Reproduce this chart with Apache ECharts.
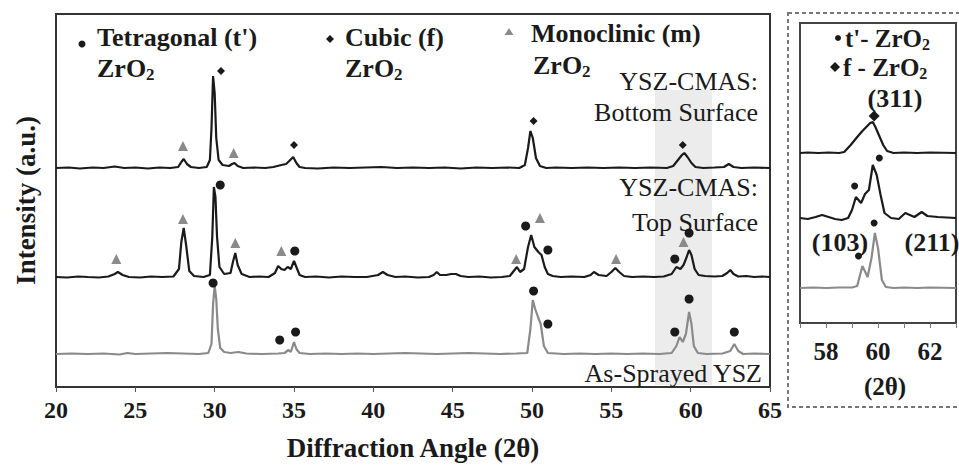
<!DOCTYPE html>
<html>
<head>
<meta charset="utf-8">
<script src="https://cdn.jsdelivr.net/npm/echarts@6/dist/echarts.min.js"></script>
<style>
  html, body { margin: 0; padding: 0; background: #fff; }
  #chart { width: 959px; height: 468px; }
</style>
</head>
<body>
<div id="chart"></div>
<script>
// x ticks of the main panel and of the inset
const mainTicks = [20, 25, 30, 35, 40, 45, 50, 55, 60, 65]
const insetTicks = [58, 60, 62]

// baseline offset of each stacked pattern (a.u.)
const mainOffsets = { bottom: 219, top: 110, sprayed: 33 }
const insetOffsets = { bottom: 170, top: 105, sprayed: 35 }

// YSZ-CMAS bottom surface, [2theta, intensity above its baseline]
const bottomSurface = [
  [20, 0], [20.8, 0.5], [21.5, -0.5], [22.3, 0.5], [23, 0], [23.7, 1.5], [24.3, 0], [25, 0.5],
  [25.8, -0.5], [26.5, 0.5], [27.2, 0], [27.7, 1], [27.9, 6], [28.05, 9], [28.25, 4], [28.5, 1],
  [29, 0], [29.5, 1], [29.7, 8], [29.8, 40], [29.9, 92], [30.0, 75], [30.1, 30], [30.25, 8],
  [30.5, 3], [30.9, 2], [31.1, 4], [31.25, 5], [31.45, 2], [31.8, 0], [32.5, 0.5], [33.2, 0],
  [33.7, 1], [34.2, 3], [34.5, 4], [34.7, 7], [34.95, 11], [35.15, 5], [35.35, 1], [35.7, 0],
  [36.5, -0.5], [37.5, 0.5], [38.5, 0], [39.5, 0.5], [40.5, 1], [41.5, 0], [42.5, 0.5], [43.5, 0],
  [44.5, 0.5], [45.5, -0.5], [46.5, 0.5], [47.5, 0], [48.5, 0.5], [49.2, 0], [49.55, 3], [49.75, 20],
  [49.9, 37], [50.05, 30], [50.25, 10], [50.5, 2], [50.9, 0], [51.5, 0.5], [52.5, 0], [53.5, 0.5],
  [54.5, 0], [55.5, 0.5], [56.5, 0], [57.5, 0.5], [58.5, 0], [58.9, 2], [59.2, 8], [59.45, 13],
  [59.6, 15], [59.8, 11], [60.05, 5], [60.3, 1], [60.8, 0], [61.5, 0.5], [62.1, 1], [62.4, 4],
  [62.7, 1], [63.2, 0], [64, 0.5], [65, 0],
]

// YSZ-CMAS top surface
const topSurface = [
  [20, 0], [20.7, -0.5], [21.4, 0.5], [22, 0], [22.7, -0.5], [23.3, 0.5], [23.7, 3], [23.9, 5],
  [24.2, 2], [24.6, 0], [25.3, -0.5], [26, 0.5], [26.7, 0], [27.4, 0.5], [27.75, 8], [27.9, 35],
  [28.05, 49], [28.2, 32], [28.4, 6], [28.7, 1], [29.3, 0], [29.7, 2], [29.85, 40], [29.95, 90],
  [30.05, 80], [30.15, 40], [30.3, 10], [30.6, 3], [31.0, 4], [31.15, 15], [31.3, 24], [31.45, 12],
  [31.7, 3], [32.2, 0], [32.8, 0.5], [33.4, 0], [33.8, 4], [34.0, 11], [34.2, 8], [34.4, 7],
  [34.6, 10], [34.8, 8], [35.0, 16], [35.15, 10], [35.35, 2], [35.7, 0], [36.4, 0.5], [37.2, -0.5],
  [38, 0.5], [38.8, 0], [39.6, 0], [40.3, 2], [40.6, 5], [40.9, 2], [41.4, 0], [42, 0.5],
  [42.8, -0.5], [43.5, 0], [43.8, 2], [44.0, 5], [44.2, 2], [44.6, 2], [44.9, 3], [45.2, 3],
  [45.5, 1], [46, 0], [46.7, 0.5], [47.4, -0.5], [48.1, 0], [48.6, 1], [48.9, 7], [49.05, 10],
  [49.25, 5], [49.5, 8], [49.75, 30], [49.95, 42], [50.15, 30], [50.4, 25], [50.6, 22], [50.8, 10],
  [51.0, 3], [51.3, 1], [51.8, 0], [52.5, 0.5], [53.3, 0], [53.7, 2], [53.9, 5], [54.2, 2],
  [54.7, 1], [55.0, 5], [55.25, 9], [55.5, 5], [55.8, 1], [56.3, 0], [57, 0.5], [57.7, 0],
  [58.3, 0.5], [58.8, 3], [59.1, 10], [59.35, 8], [59.55, 12], [59.75, 20], [59.9, 27], [60.05, 22],
  [60.25, 8], [60.5, 2], [60.9, 1], [61.5, 0.5], [62, 1], [62.3, 4], [62.5, 7], [62.7, 3],
  [63, 0.5], [63.5, 1], [64, 0], [64.5, 0.5], [65, 0],
]

// As-sprayed YSZ
const asSprayed = [
  [20, 0], [21, 0.5], [22, 0], [23, 0.5], [24, -0.5], [24.5, 1], [25, 0], [26, 0.5], [27, 1],
  [28, 0.5], [29, 0], [29.6, 1], [29.8, 10], [29.9, 50], [30.0, 68], [30.1, 55], [30.2, 25],
  [30.35, 6], [30.6, 2], [31, 1], [31.5, 2], [32, 0.5], [33, 0], [34, 0.5], [34.4, 1], [34.65, 4],
  [34.8, 2], [35.0, 12], [35.15, 5], [35.35, 1], [36, 0], [37, 0.5], [38, 0], [39, 0.5], [40, 0],
  [41, 0.5], [42, 1], [43, 0.5], [44, 0], [45, 0.5], [46, 1], [47, 0.5], [48, 0], [49, 0.5],
  [49.7, 1], [49.9, 25], [50.05, 54], [50.2, 45], [50.4, 36], [50.55, 30], [50.75, 8], [51, 1],
  [51.5, 0.5], [52, 0], [53, 0.5], [54, 0], [55, 0.5], [56, 0], [57, 0.5], [58, 0], [58.8, 1],
  [59.1, 8], [59.3, 17], [59.5, 12], [59.7, 20], [59.9, 42], [60.05, 30], [60.2, 8], [60.45, 1],
  [61, 0], [62, 0.5], [62.5, 3], [62.75, 10], [63.0, 3], [63.3, 0], [64, 0.5], [65, 0],
]

// peak markers of the main panel: [2theta, height above the pattern's baseline]
const bottomCubic = [[30.4, 97], [35.0, 23], [50.1, 47], [59.5, 23]]
const bottomMono = [[28.0, 22], [31.2, 15]]
const topTetra = [[30.35, 92], [35.05, 26], [49.6, 51], [51.0, 27], [59.0, 18], [59.9, 44]]
const topMono = [[23.8, 18], [28.0, 58], [31.3, 34], [34.2, 26], [49.0, 18], [50.5, 59], [55.3, 18], [59.55, 35]]
const sprayedTetra = [[29.9, 71], [34.1, 14], [35.1, 22], [50.1, 63], [51.0, 30], [59.0, 22], [59.9, 55], [62.75, 22]]

// inset (57-63 deg) close-up of the (103)/(211)/(311) region
const insetBottom = [
  [57, 0], [57.3, 0.5], [57.7, 0], [58.1, 0.5], [58.5, 0], [58.7, 1], [58.95, 8], [59.2, 16],
  [59.4, 22], [59.55, 26], [59.7, 30], [59.8, 31], [59.9, 26], [60.05, 17], [60.2, 8], [60.35, 2],
  [60.6, 0], [61, 0.5], [61.5, 0], [62, 0.5], [63, 0],
]
const insetTop = [
  [57, 0], [57.3, -1], [57.6, 1], [57.85, 3], [58.1, 1], [58.35, -1], [58.6, -2], [58.85, 0],
  [59.0, 8], [59.15, 21], [59.35, 15], [59.5, 24], [59.65, 28], [59.8, 53], [59.95, 43], [60.1, 23],
  [60.25, 5], [60.5, 0], [60.8, -1], [61.05, 5], [61.4, 1], [61.68, 6], [61.9, 2], [62.3, 1], [63, 0],
]
const insetSprayed = [
  [57, 0], [57.5, 0.5], [58, 0], [58.5, 0.5], [59, 0.5], [59.2, 2], [59.4, 22], [59.6, 11],
  [59.75, 30], [59.88, 55], [60.0, 40], [60.15, 8], [60.3, 1], [60.6, 0], [61, 0.5], [61.5, 0],
  [62, 0.5], [63, 0],
]
const insetBottomCubic = [[59.85, 37]]
const insetTopTetra = [[60.05, 60], [59.1, 32]]
const insetSprayedTetra = [[59.85, 65], [59.25, 32]]

// shaded 2theta window that the inset enlarges
const shadedRange = [57.75, 61.35]

const serif = 'Liberation Serif'
const ink = '#1a1a1a'
const grey = '#8a8a8a'

function shift(points, offset) {
  return points.map(([x, y]) => [x, y + offset])
}

function lineSeries(name, points, offset, color, axis) {
  return {
    name,
    type: 'line',
    xAxisIndex: axis,
    yAxisIndex: axis,
    data: shift(points, offset),
    showSymbol: false,
    symbol: 'none',
    lineStyle: { color, width: 2.2 },
    z: 3,
  }
}

function markerSeries(points, offset, symbol, size, color, axis) {
  return {
    type: 'scatter',
    xAxisIndex: axis,
    yAxisIndex: axis,
    data: shift(points, offset),
    symbol,
    symbolSize: size,
    itemStyle: { color, opacity: 1 },
    z: 4,
  }
}

function subText(main, sub, x, y, size) {
  return {
    type: 'text',
    x,
    y,
    z: 20,
    style: {
      text: `{n|${main}}{s|${sub}}`,
      verticalAlign: 'middle',
      rich: {
        n: { fontFamily: serif, fontWeight: 'bold', fontSize: size, fill: ink, color: ink },
        s: { fontFamily: serif, fontWeight: 'bold', fontSize: Math.round(size * 0.64), fill: ink, color: ink, padding: [13, 0, 0, 0] },
      },
    },
  }
}

function label(text, x, y, opts) {
  return {
    type: 'text',
    x,
    y,
    z: 20,
    style: Object.assign({
      text,
      fill: ink,
      fontFamily: serif,
      fontWeight: 'bold',
      fontSize: 26,
      align: 'left',
      verticalAlign: 'middle',
    }, opts || {}),
  }
}

const plain = { fontWeight: 'normal', align: 'right' }

const chart = echarts.init(document.getElementById('chart'), null, { renderer: 'svg' })

chart.setOption({
  animation: false,
  backgroundColor: '#fff',
  grid: [
    { left: 56, top: 14, width: 714, height: 373, show: true, borderColor: '#333', borderWidth: 2, backgroundColor: 'transparent' },
    { left: 800, top: 23, width: 196, height: 300, show: true, borderColor: '#444', borderWidth: 2, backgroundColor: 'transparent' },
  ],
  xAxis: [
    {
      gridIndex: 0,
      type: 'value',
      min: mainTicks[0],
      max: mainTicks[mainTicks.length - 1],
      interval: 5,
      name: 'Diffraction Angle (2θ)',
      nameLocation: 'middle',
      nameGap: 47,
      nameTextStyle: { fontFamily: serif, fontWeight: 'bold', fontSize: 27, color: ink },
      axisLine: { show: false },
      axisTick: { show: true, inside: false, length: 5, lineStyle: { color: '#555' } },
      axisLabel: { fontFamily: serif, fontWeight: 'bold', fontSize: 24, color: ink, margin: 11 },
      splitLine: { show: false },
    },
    {
      gridIndex: 1,
      type: 'value',
      min: 57,
      max: 63,
      interval: 1,
      axisLine: { show: false },
      axisTick: { show: true, length: 5, lineStyle: { color: '#777' } },
      axisLabel: {
        fontFamily: serif, fontWeight: 'bold', fontSize: 25, color: ink, margin: 16,
        formatter: (v) => (insetTicks.includes(v) ? String(v) : ''),
      },
      splitLine: { show: false },
    },
  ],
  yAxis: [
    {
      gridIndex: 0,
      type: 'value',
      min: 0,
      max: 373,
      name: 'Intensity (a.u.)',
      nameLocation: 'middle',
      nameGap: 17,
      nameTextStyle: { fontFamily: serif, fontWeight: 'bold', fontSize: 27, color: ink },
      axisLine: { show: false },
      axisTick: { show: false },
      axisLabel: { show: false },
      splitLine: { show: false },
    },
    {
      gridIndex: 1,
      type: 'value',
      min: 0,
      max: 300,
      axisLine: { show: false },
      axisTick: { show: false },
      axisLabel: { show: false },
      splitLine: { show: false },
    },
  ],
  series: [
    Object.assign(lineSeries('As-Sprayed YSZ', asSprayed, mainOffsets.sprayed, grey, 0), {
      markArea: {
        silent: true,
        z: 0,
        itemStyle: { color: '#ececec' },
        data: [[{ coord: [shadedRange[0], 2] }, { coord: [shadedRange[1], 297] }]],
      },
    }),
    lineSeries('YSZ-CMAS: Top Surface', topSurface, mainOffsets.top, ink, 0),
    lineSeries('YSZ-CMAS: Bottom Surface', bottomSurface, mainOffsets.bottom, ink, 0),
    markerSeries(bottomCubic, mainOffsets.bottom, 'diamond', 8, ink, 0),
    markerSeries(bottomMono, mainOffsets.bottom, 'triangle', 10, grey, 0),
    markerSeries(topTetra, mainOffsets.top, 'circle', 9, ink, 0),
    markerSeries(topMono, mainOffsets.top, 'triangle', 10, grey, 0),
    markerSeries(sprayedTetra, mainOffsets.sprayed, 'circle', 9, ink, 0),

    lineSeries('inset sprayed', insetSprayed, insetOffsets.sprayed, grey, 1),
    lineSeries('inset top', insetTop, insetOffsets.top, ink, 1),
    lineSeries('inset bottom', insetBottom, insetOffsets.bottom, ink, 1),
    markerSeries(insetBottomCubic, insetOffsets.bottom, 'diamond', 11, ink, 1),
    markerSeries(insetTopTetra, insetOffsets.top, 'circle', 7, ink, 1),
    markerSeries(insetSprayedTetra, insetOffsets.sprayed, 'circle', 7, ink, 1),
  ],
  graphic: [
    // dashed frame round the inset
    {
      type: 'rect',
      shape: { x: 788, y: 13, width: 220, height: 394 },
      style: { fill: 'none', stroke: '#777', lineWidth: 2, lineDash: [4, 3] },
      z: 1,
    },
    // phase key, main panel
    { type: 'circle', shape: { cx: 82, cy: 44, r: 3.5 }, style: { fill: ink }, z: 20 },
    label("Tetragonal (t')", 97, 37),
    subText('ZrO', '2', 97, 68, 26),
    { type: 'polygon', shape: { points: [[330, 35], [334, 39], [330, 43], [326, 39]] }, style: { fill: ink }, z: 20 },
    label('Cubic (f)', 345, 37),
    subText('ZrO', '2', 345, 68, 26),
    { type: 'polygon', shape: { points: [[509, 28], [513.5, 35], [504.5, 35]] }, style: { fill: grey }, z: 20 },
    label('Monoclinic (m)', 531, 33),
    subText('ZrO', '2', 533, 65, 26),
    // pattern names
    label('YSZ-CMAS:', 758, 81, plain),
    label('Bottom Surface', 758, 112, plain),
    label('YSZ-CMAS:', 758, 187, plain),
    label('Top Surface', 758, 222, plain),
    label('As-Sprayed YSZ', 762, 373, plain),
    // inset key and reflection labels
    { type: 'circle', shape: { cx: 838, cy: 38, r: 3 }, style: { fill: ink }, z: 20 },
    subText("t'- ZrO", '2', 845, 38, 25),
    { type: 'polygon', shape: { points: [[835, 62], [840, 67], [835, 72], [830, 67]] }, style: { fill: ink }, z: 20 },
    subText('f - ZrO', '2', 843, 67, 25),
    label('(311)', 895, 98, { align: 'center' }),
    label('(103)', 840, 242, { align: 'center' }),
    label('(211)', 932, 242, { align: 'center' }),
    label('(2θ)', 885, 386, { align: 'center', fontSize: 25 }),
  ],
})
</script>
</body>
</html>
